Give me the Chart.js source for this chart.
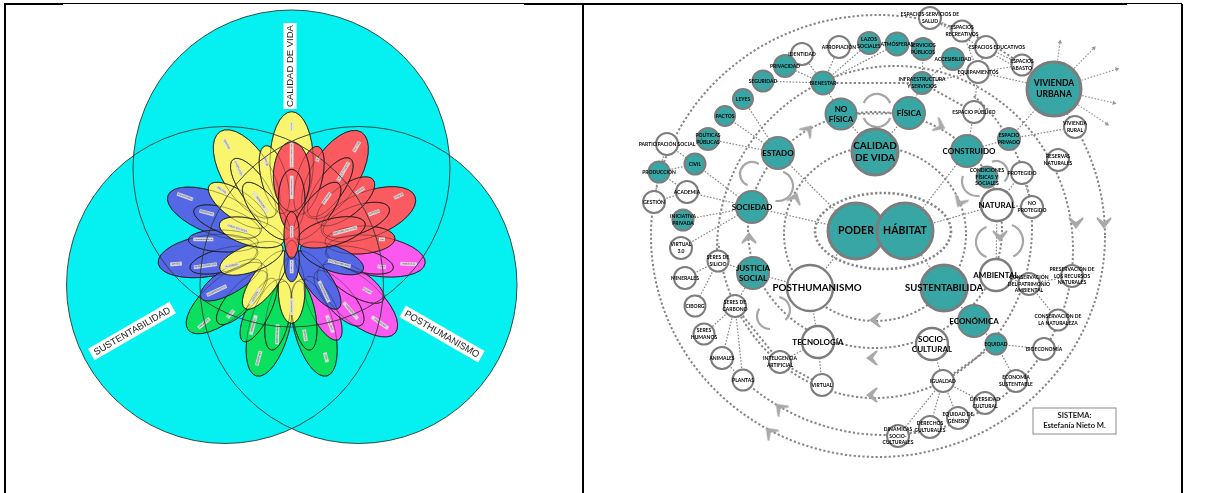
<!DOCTYPE html>
<html>
<head>
<meta charset="utf-8">
<title>Sistema</title>
<script src="https://cdn.jsdelivr.net/npm/chart.js@4"></script>
<style>
  html, body { margin: 0; padding: 0; background: #fff; }
  canvas { display: block; }
</style>
</head>
<body>
<canvas id="grafico" width="1211" height="493"></canvas>
<script>
// venn de la izquierda
const vennX = [291.5, 225, 358.5];
const vennY = [168.5, 285, 285];
const vennR = [158.5, 158.5, 158.5];
const vennTextos = ['CALIDAD DE VIDA', 'SUSTENTABILIDAD', 'POSTHUMANISMO'];
const vennTextoX = [290, 132, 442];
const vennTextoY = [66, 331, 334];
const vennTextoAng = [-90, -30, 30];
const vennTextoLargo = [86, 94, 91];

// petalos: x, y, semieje largo, semieje corto, angulo, color (en el eje xf/yf)
const coloresPetalo = { a: '#f9f56c', r: '#fb5a60', b: '#5468e6', v: '#0ae05e', m: '#fb58f0' };
const petalosExternos = [
  [737, 468, 150, 60, 8.5, 'm'], [682, 601, 150, 65, 41, 'm'],
  [552, 683, 150, 60, 75, 'v'], [418, 683, 150, 60, -75, 'v'], [290, 594, 150, 62, -40, 'v'],
  [485, 185, 150, 65, 90, 'a'], [350, 222, 150, 72, 58, 'a'],
  [233, 468, 150, 62, -8.5, 'b'], [254, 340, 150, 62, 21, 'b'],
  [615, 224, 150, 72, -58, 'r'], [715, 343, 150, 68, -21, 'r']
];
const petalosMedios = [
  [579, 625, 105, 38, 64, 'm'], [627, 595, 105, 40, 49, 'm'], [671, 545, 105, 40, 32, 'm'], [688, 480, 105, 35, 14, 'm'],
  [522, 647, 105, 35, 80, 'v'], [444, 647, 105, 35, -79, 'v'], [386, 630, 105, 35, -64, 'v'], [336, 593, 105, 38, -47, 'v'],
  [303, 540, 105, 38, -31, 'b'], [282, 480, 105, 35, -14, 'b'], [280, 423, 105, 33, 2, 'b'], [291, 364, 105, 38, 19, 'b'],
  [324, 316, 105, 42, 35, 'a'], [370, 264, 105, 40, 55, 'a'], [433, 239, 105, 38, 75, 'a'],
  [690, 420, 105, 42, -3, 'r'], [679, 360, 105, 42, -20, 'r'], [647, 304, 105, 45, -38, 'r'],
  [601, 262, 105, 40, -55, 'r'], [537, 241, 105, 38, -75, 'r'], [485, 230, 105, 55, 90, 'r']
];
const petalosInternos = [
  [485, 570, 100, 40, 90, 'a'], [406, 540, 105, 38, -54, 'a'], [364, 475, 100, 40, -20, 'a'],
  [365, 397, 100, 40, 15, 'a'], [409, 333, 105, 40, 52, 'a'],
  [564, 540, 105, 38, 54, 'b'], [606, 475, 100, 38, 20, 'b'],
  [485, 300, 92, 40, 90, 'r'], [561, 333, 105, 40, -52, 'r'], [604, 397, 105, 40, -15, 'r'],
  [485, 483, 62, 23, 90, 'b'], [485, 405, 70, 23, 90, 'r']
];
// etiquetas pequeñas de los petalos: x, y, angulo, largo, texto
const etiquetasPetalo = [
  [485, 80, 90, 25, 'ESTÉTICA'], [290, 133, 60, 35, 'PRIVACIDAD'], [325, 205, 65, 50, 'APROPIACIÓN'], [408, 185, 75, 30, 'IDENTIDAD'],
  [275, 270, 35, 35, 'PACTOS'], [392, 307, 55, 75, 'SEGURIDAD'], [322, 385, 18, 65, 'LAZOS SOCIALES'], [305, 497, -12, 50, 'ACADEMIA'],
  [375, 590, -60, 55, 'GESTIÓN'], [485, 620, 90, 50, 'PLANTAS'], [165, 290, 20, 50, 'ATMÓSFERAS'], [230, 338, 15, 45, 'BIENESTAR'],
  [220, 418, 0, 60, 'ACCESIBILIDAD'], [138, 492, -5, 35, 'LEYES'], [226, 497, -8, 70, 'INFRAESTRUCTURA'], [260, 572, -25, 65, 'EQUIPAMIENTOS'],
  [222, 670, -40, 45, 'ANIMALES'], [302, 642, -50, 30, 'CIBORG'], [370, 675, -75, 60, 'MINERALES'], [442, 703, -88, 60, 'BIOECONOMÍA'],
  [525, 706, 80, 35, 'VIRTUAL'], [386, 775, -75, 45, 'RESERVAS'], [588, 772, 75, 30, 'CIVIL'], [485, 165, 90, 75, 'INTELIGENCIA ARTIFICIAL'],
  [485, 262, 90, 70, 'PROTECCIÓN'], [485, 395, 90, 35, 'ESTADO'], [485, 500, 90, 40, 'NATURAL'], [680, 140, -60, 35, 'POLÍTICAS'],
  [563, 178, -70, 15, 'ÉTICA'], [640, 215, -60, 65, 'ESPACIO PÚBLICO'], [590, 295, -55, 40, 'SOCIEDAD'], [690, 272, -35, 30, 'DERECHOS'],
  [806, 288, -25, 30, 'PODER'], [732, 338, -20, 35, 'JUSTICIA'], [756, 418, 0, 18, 'FE'], [628, 490, 15, 70, 'SUSTENTABILIDAD'],
  [582, 575, 65, 70, 'CONSERVACIÓN'], [755, 500, 5, 25, 'AGUA'], [836, 492, 3, 50, 'AMBIENTAL'], [712, 572, 30, 30, 'EQUIDAD'],
  [662, 632, 50, 65, 'DIVERSIDAD'], [600, 672, 70, 55, 'IGUALDAD'], [750, 668, 35, 60, 'DINÁMICAS'], [645, 392, -15, 75, 'PARTICIPACIÓN SOCIAL']
];

// nodos del sistema
const nombresVerdes = ['PODER', 'HÁBITAT', 'CALIDAD|DE VIDA', 'NO|FÍSICA', 'FÍSICA', 'ESTADO', 'CONSTRUIDO', 'VIVIENDA|URBANA',
  'BIENESTAR', 'SEGURIDAD', 'PRIVACIDAD', 'LEYES', 'PACTOS', 'POLÍTICAS|PÚBLICAS', 'CIVIL', 'PRODUCCIÓN',
  'LAZOS|SOCIALES', 'ATMÓSFERAS', 'SERVICIOS|PÚBLICOS', 'ACCESIBILIDAD', 'INFRAESTRUCTURA|Y SERVICIOS', 'ESPACIO|PRIVADO',
  'CONDICIONES|FÍSICAS Y|SOCIALES', 'SOCIEDAD', 'INICIATIVA|PRIVADA', 'JUSTICIA|SOCIAL', 'SUSTENTABILIDA', 'ECONÓMICA', 'EQUIDAD'];
const verdesX = [856, 905, 875, 841, 909, 778, 967, 1054, 823, 763, 785, 743, 725, 708, 695, 659, 869, 897, 923, 953, 922, 1009, 987, 752, 683, 753, 944, 974, 996];
const verdesY = [231, 231, 152, 114, 113, 153, 151, 89, 83, 81, 66, 99, 116, 139, 164, 172, 43, 44, 49, 59, 83, 139, 177, 207, 220, 273, 288, 321, 344];
const verdesR = [28, 28, 23, 15.5, 16, 16, 16, 27, 11.5, 10.5, 11, 10, 10, 11, 10.5, 10.5, 11, 11.5, 11, 11, 11, 11, 10.5, 16, 10.5, 16, 23, 16, 10.5];

const nombresBlancos = ['ESPACIOS-SERVICIOS DE|SALUD', 'ESPACIOS|RECREATIVOS', 'ESPACIOS EDUCATIVOS', 'ESPACIOS|ABASTO', 'EQUIPAMIENTOS', 'ESPACIO PÚBLICO',
  'IDENTIDAD', 'APROPIACIÓN', 'PARTICIPACIÓN SOCIAL', 'GESTIÓN', 'ACADEMIA', 'VIRTUAL|3.0', 'SERES DE|SILICIO', 'MINERALES', 'CIBORG', 'SERES DE|CARBONO',
  'SERES|HUMANOS', 'ANIMALES', 'PLANTAS', 'INTELIGENCIA|ARTIFICIAL', 'TECNOLOGÍA', 'VIRTUAL', 'SOCIO-|CULTURAL', 'IGUALDAD', 'DINÁMICAS|SOCIO-|CULTURALES',
  'DERECHOS|CULTURALES', 'EQUIDAD DE|GÉNERO', 'DIVERSIDAD|CULTURAL', 'ECONOMÍA|SUSTENTABLE', 'BIOECONOMÍA', 'CONSERVACIÓN DE|LA NATURALEZA',
  'PRESERVACIÓN DE|LOS RECURSOS|NATURALES', 'CONSERVACIÓN|DEL PATRIMONIO|AMBIENTAL', 'AMBIENTAL', 'NATURAL', 'NO|PROTEGIDO', 'PROTEGIDO', 'RESERVAS|NATURALES',
  'VIVIENDA|RURAL', 'POSTHUMANISMO'];
const blancosX = [930, 962, 986, 1022, 978, 974, 802, 839, 667, 654, 687, 681, 718, 685, 695, 735, 704, 722, 743, 780, 818, 822, 932, 943, 898, 930, 958, 985, 1016, 1044, 1058, 1072, 1029, 996, 997, 1032, 1022, 1058, 1075, 810];
const blancosY = [18, 31, 47, 65, 72, 112, 54, 47, 144, 202, 192, 248, 261, 278, 306, 306, 334, 358, 380, 362, 342, 385, 344, 381, 436, 427, 418, 403, 381, 349, 320, 276, 284, 275, 205, 207, 173, 160, 127, 288];
const blancosR = [11, 10.5, 11, 10.5, 11, 11, 11, 11, 11, 11, 11, 11, 10.5, 11, 10.5, 11, 10.5, 11, 10.5, 11, 16, 11, 16, 11, 11, 11, 11, 11, 11, 11, 10.5, 11, 11, 16, 16, 11, 11, 11, 11, 23];

const tamanoTexto = { 'PODER': 10.5, 'HÁBITAT': 10.5, 'CALIDAD|DE VIDA': 10, 'POSTHUMANISMO': 9.8, 'SUSTENTABILIDA': 9.5, 'VIVIENDA|URBANA': 8.5,
  'NO|FÍSICA': 8, 'FÍSICA': 8, 'ESTADO': 8, 'CONSTRUIDO': 8, 'SOCIEDAD': 8, 'JUSTICIA|SOCIAL': 8, 'ECONÓMICA': 8, 'TECNOLOGÍA': 8, 'SOCIO-|CULTURAL': 8,
  'AMBIENTAL': 8, 'NATURAL': 8 };
const corrimientoTexto = { 'POSTHUMANISMO': 7, 'ESPACIOS EDUCATIVOS': 11, 'SUSTENTABILIDA': 0, 'CONSTRUIDO': 2 };

// enlaces finos y gruesos
const enlacesFinos = [
  ['CALIDAD DE VIDA', 'NO FÍSICA'], ['CALIDAD DE VIDA', 'FÍSICA'], ['NO FÍSICA', 'BIENESTAR'], ['FÍSICA', 'INFRAESTRUCTURA Y SERVICIOS'],
  ['BIENESTAR', 'SEGURIDAD'], ['BIENESTAR', 'PRIVACIDAD'], ['BIENESTAR', 'IDENTIDAD'], ['BIENESTAR', 'APROPIACIÓN'], ['BIENESTAR', 'LAZOS SOCIALES'], ['BIENESTAR', 'ATMÓSFERAS'],
  ['ESTADO', 'LEYES'], ['ESTADO', 'PACTOS'], ['ESTADO', 'POLÍTICAS PÚBLICAS'], ['ESTADO', 'PODER'], ['SOCIEDAD', 'PODER'],
  ['INFRAESTRUCTURA Y SERVICIOS', 'SERVICIOS PÚBLICOS'], ['INFRAESTRUCTURA Y SERVICIOS', 'ACCESIBILIDAD'], ['INFRAESTRUCTURA Y SERVICIOS', 'EQUIPAMIENTOS'],
  ['EQUIPAMIENTOS', 'ESPACIOS EDUCATIVOS'], ['EQUIPAMIENTOS', 'ESPACIOS ABASTO'], ['EQUIPAMIENTOS', 'ESPACIOS RECREATIVOS'], ['EQUIPAMIENTOS', 'ESPACIO PÚBLICO'], ['EQUIPAMIENTOS', 'VIVIENDA URBANA'],
  ['ESPACIOS-SERVICIOS DE SALUD', 'VIVIENDA URBANA'], ['ESPACIOS-SERVICIOS DE SALUD', 'ESPACIOS RECREATIVOS'], ['ESPACIOS ABASTO', 'ESPACIOS EDUCATIVOS'],
  ['CONSTRUIDO', 'ESPACIO PÚBLICO'], ['CONSTRUIDO', 'ESPACIO PRIVADO'], ['ESPACIO PRIVADO', 'VIVIENDA URBANA'], ['ESPACIO PRIVADO', 'VIVIENDA RURAL'], ['CONSTRUIDO', 'HÁBITAT'],
  ['NATURAL', 'PROTEGIDO'], ['NATURAL', 'NO PROTEGIDO'], ['NATURAL', 'AMBIENTAL'], ['NATURAL', 'HÁBITAT'], ['PROTEGIDO', 'NO PROTEGIDO'],
  ['SOCIEDAD', 'CIVIL'], ['SOCIEDAD', 'ACADEMIA'], ['SOCIEDAD', 'INICIATIVA PRIVADA'], ['SOCIEDAD', 'VIRTUAL 3.0'],
  ['GESTIÓN', 'PRODUCCIÓN'], ['GESTIÓN', 'ACADEMIA'], ['PARTICIPACIÓN SOCIAL', 'PRODUCCIÓN'], ['PARTICIPACIÓN SOCIAL', 'CIVIL'], ['PRODUCCIÓN', 'CIVIL'], ['PRODUCCIÓN', 'ACADEMIA'],
  ['SERES DE SILICIO', 'MINERALES'], ['SERES DE SILICIO', 'CIBORG'], ['SERES DE SILICIO', 'JUSTICIA SOCIAL'], ['SERES DE CARBONO', 'SERES HUMANOS'], ['SERES DE CARBONO', 'ANIMALES'],
  ['SERES DE CARBONO', 'PLANTAS'], ['SERES DE CARBONO', 'JUSTICIA SOCIAL'], ['JUSTICIA SOCIAL', 'POSTHUMANISMO'], ['POSTHUMANISMO', 'PODER'], ['POSTHUMANISMO', 'TECNOLOGÍA'],
  ['TECNOLOGÍA', 'INTELIGENCIA ARTIFICIAL'], ['TECNOLOGÍA', 'VIRTUAL'], ['SOCIO- CULTURAL', 'IGUALDAD'], ['SUSTENTABILIDA', 'HÁBITAT'], ['SUSTENTABILIDA', 'ECONÓMICA'],
  ['EQUIDAD', 'ECONÓMICA'], ['EQUIDAD', 'BIOECONOMÍA'], ['EQUIDAD', 'ECONOMÍA SUSTENTABLE'],
  ['IGUALDAD', 'DINÁMICAS SOCIO- CULTURALES'], ['IGUALDAD', 'DERECHOS CULTURALES'], ['IGUALDAD', 'EQUIDAD DE GÉNERO'], ['IGUALDAD', 'DIVERSIDAD CULTURAL'],
  ['CONSERVACIÓN DEL PATRIMONIO AMBIENTAL', 'AMBIENTAL'], ['CONSERVACIÓN DEL PATRIMONIO AMBIENTAL', 'CONSERVACIÓN DE LA NATURALEZA'], ['CONSERVACIÓN DEL PATRIMONIO AMBIENTAL', 'PRESERVACIÓN DE LOS RECURSOS NATURALES'],
  ['DINÁMICAS SOCIO- CULTURALES', 'DERECHOS CULTURALES'], ['ANIMALES', 'PLANTAS']
];
const enlacesGruesos = [
  ['NO FÍSICA', 'FÍSICA'], ['BIENESTAR', 'INFRAESTRUCTURA Y SERVICIOS'], ['INFRAESTRUCTURA Y SERVICIOS', 'ESPACIO PÚBLICO'],
  ['INTELIGENCIA ARTIFICIAL', 'SERES DE CARBONO'], ['INTELIGENCIA ARTIFICIAL', 'VIRTUAL'], ['IGUALDAD', 'EQUIDAD']
];
// flechas que salen de vivienda urbana
const salidaX = [1060, 1094, 1117, 1114, 1107];
const salidaY = [42, 48, 69, 103, 124];
const salidaAng = [7, 44, 72, 103, 123];

// anillos punteados: cx, cy, rx, ry, inicio, fin, grosor
const anillos = [
  [878, 236, 227, 221, 0, 360, 2],
  [895, 250, 178, 184, 180, 450, 2],
  [885, 225, 210, 210, 85, 133, 2],
  [875, 228, 157, 170, -51, 175, 2],
  [875, 230, 127, 118, 0, 360, 2],
  [875, 234, 91, 87, 0, 360, 2],
  [883, 231, 68, 38, 0, 360, 2.6]
];
// flechas curvas: cx, cy, r, inicio, fin
const curvas = [
  [877, 108, 14, 200, 340], [877, 113, 14, 20, 160], [752, 174, 12, 111, 304], [778, 186, 15, -70, 100],
  [777, 310, 13, -80, 50], [770, 316, 13, 90, 215], [977, 181, 15, 80, 200], [996, 173, 12, -110, 45],
  [992, 242, 16, 110, 250], [1006, 241, 17, -70, 65]
];
const chevronX = [808, 749, 795, 875, 1076, 1104, 1000, 960, 940, 872, 872, 780, 770];
const chevronY = [130, 238, 198, 320, 223, 223, 236, 202, 126, 358, 395, 408, 432];
const chevronAng = [40, 0, 20, -90, 180, 180, 180, 205, 115, -90, -90, -45, -45];

// marcos de la tabla
const marcoGrueso = [[5, 4, 5, 493], [583, 4, 583, 493], [1182, 4, 1182, 493], [4, 4, 63, 4], [524, 4, 1127, 4]];
const marcoFino = [[63, 3.5, 524, 3.5], [1127, 3.5, 1182, 3.5]];
const sistemaTexto = ['SISTEMA:', 'Estefanía Nieto M.'];
const sistemaCaja = [1033, 408, 1116, 434];

const nodos = nombresVerdes.map((n, i) => ({ n, x: verdesX[i], y: verdesY[i], r: verdesR[i] }))
  .concat(nombresBlancos.map((n, i) => ({ n, x: blancosX[i], y: blancosY[i], r: blancosR[i] })));

function buscar(nombre) {
  const nodo = nodos.find(d => d.n.split('|').join(' ') === nombre);
  if (!nodo) throw new Error('sin nodo ' + nombre);
  return nodo;
}
function tramos(lista) {
  const pts = [];
  lista.forEach(par => {
    const a = buscar(par[0]), b = buscar(par[1]);
    pts.push({ x: a.x, y: a.y }, { x: b.x, y: b.y }, { x: NaN, y: NaN });
  });
  return pts;
}
function tramosMarco(lista) {
  const pts = [];
  lista.forEach(l => pts.push({ x: l[0], y: l[1] }, { x: l[2], y: l[3] }, { x: NaN, y: NaN }));
  return pts;
}
const vivienda = buscar('VIVIENDA URBANA');
const tramosSalida = [];
salidaX.forEach((x, i) => tramosSalida.push({ x: vivienda.x, y: vivienda.y }, { x, y: salidaY[i] }, { x: NaN, y: NaN }));

// punta gris para las flechas grandes
const chevron = document.createElement('canvas');
chevron.width = 16; chevron.height = 14;
const cc = chevron.getContext('2d');
cc.fillStyle = '#a9a9a9';
cc.beginPath();
cc.moveTo(8, 1); cc.lineTo(15.5, 11); cc.lineTo(15, 13); cc.lineTo(8, 8); cc.lineTo(1, 13); cc.lineTo(0.5, 11);
cc.closePath();
cc.fill();

const lineaBase = { type: 'line', showLine: true, pointRadius: 0, fill: false, spanGaps: false, tension: 0 };
const GRIS = '#858585';

const dibujo = {
  id: 'dibujo',
  beforeDatasetsDraw(chart) {
    const { ctx, scales: { x, y } } = chart;
    ctx.save();
    ctx.strokeStyle = GRIS;
    anillos.forEach(a => {
      const rad = Math.PI / 180;
      ctx.lineWidth = a[6];
      ctx.setLineDash([2.2, 2.2]);
      ctx.beginPath();
      ctx.ellipse(x.getPixelForValue(a[0]), y.getPixelForValue(a[1]), a[2], a[3], 0, a[4] * rad, a[5] * rad);
      ctx.stroke();
    });
    ctx.setLineDash([]);
    ctx.strokeStyle = '#a6a6a6';
    ctx.lineWidth = 2.2;
    curvas.forEach(a => {
      const rad = Math.PI / 180;
      ctx.beginPath();
      ctx.arc(x.getPixelForValue(a[0]), y.getPixelForValue(a[1]), a[2], a[3] * rad, a[4] * rad);
      ctx.stroke();
    });
    ctx.restore();
  },
  afterDatasetDraw(chart, args) {
    if (chart.data.datasets[args.index].label !== 'venn') return;
    const { ctx, scales: { xf, yf } } = chart;
    const k = xf.getPixelForValue(1) - xf.getPixelForValue(0);
    const todos = petalosExternos.concat(petalosMedios, petalosInternos);
    const trazar = p => {
      ctx.beginPath();
      ctx.ellipse(xf.getPixelForValue(p[0]), yf.getPixelForValue(p[1]), p[2] * k, p[3] * k, p[4] * Math.PI / 180, 0, Math.PI * 2);
    };
    ctx.save();
    todos.forEach(p => {
      trazar(p);
      ctx.fillStyle = coloresPetalo[p[5]];
      ctx.fill();
      ctx.lineWidth = 0.8;
      ctx.strokeStyle = '#1c1c1c';
      ctx.stroke();
    });
    // los contornos se ven a traves de los petalos
    ctx.strokeStyle = 'rgba(20,20,20,0.55)';
    ctx.lineWidth = 0.7;
    todos.forEach(p => {
      trazar(p);
      ctx.stroke();
    });
    etiquetasPetalo.forEach(e => {
      ctx.save();
      ctx.translate(xf.getPixelForValue(e[0]), yf.getPixelForValue(e[1]));
      ctx.rotate(e[2] * Math.PI / 180);
      const largo = e[3] * k;
      ctx.fillStyle = 'rgba(225,225,225,0.9)';
      ctx.fillRect(-largo / 2, -1.9, largo, 3.8);
      ctx.fillStyle = '#444';
      ctx.font = '2.4px "Liberation Sans"';
      ctx.textAlign = 'center';
      ctx.textBaseline = 'middle';
      ctx.fillText(e[4], 0, 0, largo - 1);
      ctx.restore();
    });
    ctx.restore();
  },
  afterDatasetsDraw(chart) {
    const { ctx, scales: { x, y } } = chart;
    ctx.save();
    ctx.textAlign = 'center';
    ctx.textBaseline = 'middle';
    // rotulos del venn
    vennTextos.forEach((t, i) => {
      ctx.save();
      ctx.translate(x.getPixelForValue(vennTextoX[i]), y.getPixelForValue(vennTextoY[i]));
      ctx.rotate(vennTextoAng[i] * Math.PI / 180);
      ctx.fillStyle = '#fff';
      ctx.fillRect(-vennTextoLargo[i] / 2, -6.5, vennTextoLargo[i], 13);
      ctx.fillStyle = '#222';
      ctx.font = '9.5px "Liberation Sans"';
      ctx.fillText(t, 0, 0.5);
      ctx.restore();
    });
    // textos de nodos
    ctx.fillStyle = '#000';
    nodos.forEach(d => {
      const size = tamanoTexto[d.n] || 5;
      const lineas = d.n.split('|');
      const alto = size * (size > 6 ? 1.25 : 1.3);
      ctx.font = 'bold ' + size + 'px Lato';
      lineas.forEach((l, i) => {
        ctx.fillText(l, x.getPixelForValue(d.x + (corrimientoTexto[d.n] || 0)),
          y.getPixelForValue(d.y) + (i - (lineas.length - 1) / 2) * alto);
      });
    });
    // caja del sistema
    const c = sistemaCaja;
    const x0 = x.getPixelForValue(c[0]), y0 = y.getPixelForValue(c[1]);
    const ancho = x.getPixelForValue(c[2]) - x0, altoCaja = y.getPixelForValue(c[3]) - y0;
    ctx.strokeStyle = '#8a8a8a';
    ctx.lineWidth = 1;
    ctx.strokeRect(x0, y0, ancho, altoCaja);
    ctx.font = 'bold 7.6px Lato';
    ctx.fillStyle = '#1a1a1a';
    sistemaTexto.forEach((t, i) => ctx.fillText(t, x0 + ancho / 2, y0 + 8 + i * 10));
    ctx.restore();
  }
};

new Chart(document.getElementById('grafico'), {
  type: 'bubble',
  data: {
    datasets: [
      { label: 'venn', order: 20, clip: false,
        data: vennX.map((x, i) => ({ x, y: vennY[i], r: vennR[i] })),
        backgroundColor: '#05f0f0', borderWidth: 0 },
      { label: 'venn borde', order: 19, clip: false,
        data: vennX.map((x, i) => ({ x, y: vennY[i], r: vennR[i] })),
        backgroundColor: 'transparent', borderColor: '#2a3a3a', borderWidth: 0.9 },
      { ...lineaBase, label: 'marco grueso', order: 18, data: tramosMarco(marcoGrueso), borderColor: '#000', borderWidth: 2 },
      { ...lineaBase, label: 'marco fino', order: 17, data: tramosMarco(marcoFino), borderColor: '#000', borderWidth: 1 },
      { ...lineaBase, label: 'enlaces', order: 16, data: tramos(enlacesFinos), borderColor: GRIS, borderWidth: 1.2, borderDash: [1.6, 1.6] },
      { ...lineaBase, label: 'enlaces gruesos', order: 15, data: tramos(enlacesGruesos), borderColor: GRIS, borderWidth: 2, borderDash: [2.2, 2.2] },
      { ...lineaBase, label: 'salidas', order: 14, data: tramosSalida, borderColor: '#9a9a9a', borderWidth: 1.2, borderDash: [1.6, 1.6] },
      { type: 'scatter', label: 'puntas', order: 13, data: salidaX.map((x, i) => ({ x, y: salidaY[i] })),
        pointStyle: 'triangle', pointRadius: 2.6, pointRotation: salidaAng, backgroundColor: '#9a9a9a', borderWidth: 0 },
      { type: 'scatter', label: 'flechas', order: 12, data: chevronX.map((x, i) => ({ x, y: chevronY[i] })),
        pointStyle: chevron, pointRadius: 8, pointRotation: chevronAng },
      { label: 'blancos', order: 11, data: nombresBlancos.map((n, i) => ({ x: blancosX[i], y: blancosY[i], r: blancosR[i] })),
        backgroundColor: '#ffffff', borderColor: '#7d7d7d',
        borderWidth: c => (c.raw && c.raw.r > 14 ? 2.4 : 2) },
      { label: 'verdes', order: 10, data: nombresVerdes.map((n, i) => ({ x: verdesX[i], y: verdesY[i], r: verdesR[i] })),
        backgroundColor: '#38a6a4', borderColor: '#7d7d7d',
        borderWidth: c => (c.raw && c.raw.r > 22 ? 3 : 2) }
    ]
  },
  options: {
    responsive: false,
    animation: false,
    events: [],
    layout: { padding: 0, autoPadding: false },
    plugins: { legend: { display: false }, tooltip: { enabled: false } },
    scales: {
      x: { type: 'linear', min: 0, max: 1211, display: false },
      y: { type: 'linear', min: 0, max: 493, reverse: true, display: false },
      xf: { type: 'linear', axis: 'x', min: -390, max: 3243, display: false },
      yf: { type: 'linear', axis: 'y', min: -300, max: 1179, reverse: true, display: false }
    }
  },
  plugins: [dibujo]
});
</script>
</body>
</html>
